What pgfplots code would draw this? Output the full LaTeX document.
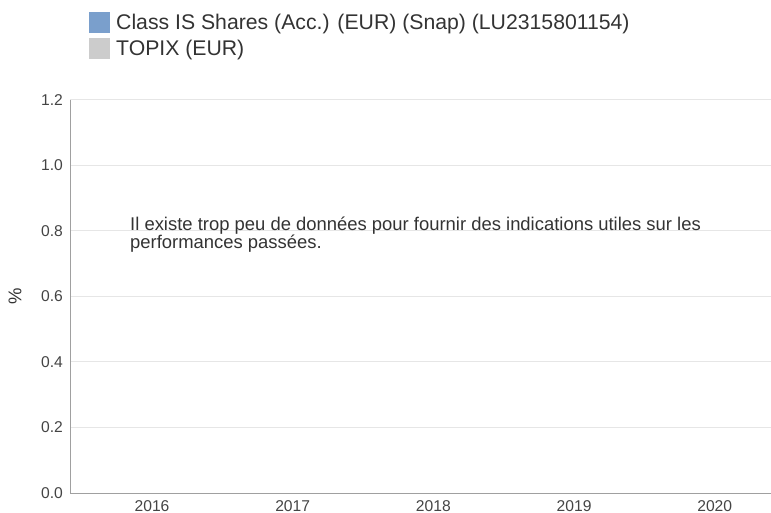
\documentclass[border=0pt]{standalone}
\usepackage{pgfplots}
\pgfplotsset{compat=1.18}
\usepackage{fontspec}
\setmainfont{Liberation Sans}
\definecolor{fundblue}{RGB}{122,159,204}
\definecolor{idxgray}{RGB}{204,204,204}
\definecolor{gridc}{RGB}{230,230,230}
\definecolor{axisc}{RGB}{160,160,160}
\definecolor{txt}{RGB}{51,51,51}
\definecolor{ticktxt}{RGB}{68,68,68}
\begin{document}
\begin{tikzpicture}
\useasboundingbox (-70bp,-20bp) rectangle (701bp,493bp);
\begin{axis}[
  at={(0,0)}, anchor=south west,
  scale only axis, width=701bp, height=393bp,
  xmin=-0.583, xmax=4.40, ymin=0, ymax=1.2,
  axis lines=left, axis line style={-, draw=axisc, line width=1bp},
  xtick={0,1,2,3,4}, xticklabels={2016,2017,2018,2019,2020},
  ytick={0,0.2,0.4,0.6,0.8,1.0,1.2},
  major tick length=0pt,
  ymajorgrids, major grid style={draw=gridc, line width=1bp},
  /pgf/number format/assume math mode=true,
  yticklabel style={/pgf/number format/.cd, fixed, fixed zerofill, precision=1, /tikz/.cd,
    anchor=east, inner sep=0pt, xshift=-7bp, font=\fontsize{15.7}{15.7}\selectfont, text=ticktxt},
  xticklabel style={anchor=north, inner sep=0pt, yshift=-7bp, font=\fontsize{15.7}{15.7}\selectfont, text=ticktxt},
  ylabel={\%},
  every axis y label/.style={at={(rel axis cs:0,0.5)}, rotate=90, anchor=center, yshift=55bp,
    font=\fontsize{18.5}{18.5}\selectfont, text=txt},
  legend image code/.code={\fill (0bp,-10.5bp) rectangle (21bp,10.5bp);},
  legend cell align=left,
  legend style={at={(rel axis cs:0,1)}, anchor=north west, xshift=19bp, yshift=88bp,
    draw=none, fill=none, inner sep=0pt, row sep=5bp, column sep=6bp,
    font=\fontsize{21.3}{21.3}\selectfont, text=txt, nodes={inner sep=0pt}},
]
\addlegendimage{fill=fundblue, draw=none}
\addlegendentry{Class IS Shares (Acc.) (EUR) (Snap) (LU2315801154)}
\addlegendimage{fill=idxgray, draw=none}
\addlegendentry{TOPIX (EUR)}
\node[anchor=base west, inner sep=0pt, font=\fontsize{18.5}{18.5}\selectfont, text=txt]
  at (rel axis cs:0.0856,0.669) {Il existe trop peu de données pour fournir des indications utiles sur les};
\node[anchor=base west, inner sep=0pt, font=\fontsize{18.5}{18.5}\selectfont, text=txt]
  at (rel axis cs:0.0856,0.623) {performances passées.};
\end{axis}
\end{tikzpicture}
\end{document}
